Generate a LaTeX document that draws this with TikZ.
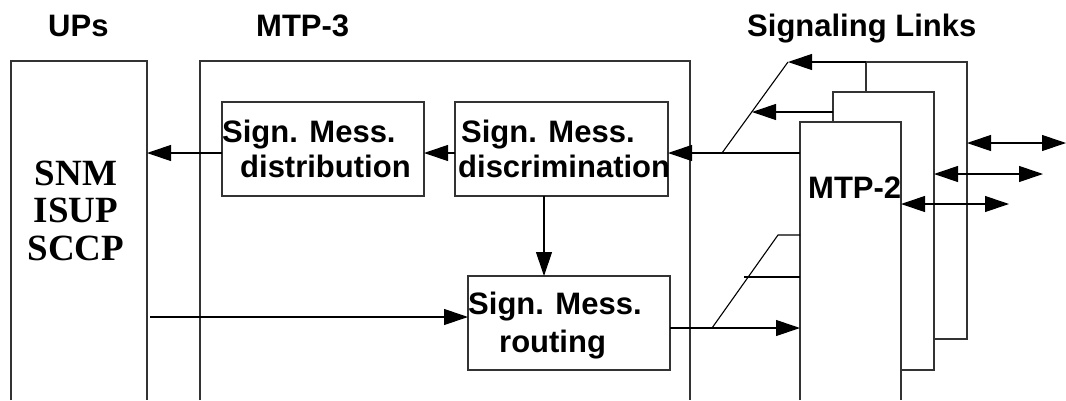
\documentclass[tikz,border=0pt]{standalone}
\usepackage{fontspec}
\setmainfont{Liberation Serif}
\newfontfamily\arialf{Liberation Sans}
\usetikzlibrary{arrows.meta}
\begin{document}
\begin{tikzpicture}[x=1pt,y=-1pt,
  frame/.style={line width=1.3pt, draw=black!80},
  box/.style={draw=black!80, line width=1.3pt, inner sep=0pt, outer sep=0pt, minimum width=#1, minimum height=94pt},
  lbl/.style={font=\arialf\bfseries\fontsize{31}{31}\selectfont, anchor=base west, inner sep=0pt},
  up/.style={font=\bfseries\fontsize{37}{37}\selectfont, anchor=base, inner sep=0pt},
  ln/.style={line width=1.1pt},
  arr/.style={line width=1.1pt, -{Triangle[length=24pt,width=16pt]}},
  darr/.style={line width=1.1pt, {Triangle[length=24pt,width=16pt]}-{Triangle[length=24pt,width=16pt]}}]
\useasboundingbox (0,0) rectangle (1066,400);

% titles
\node[lbl] (tUPs) at (48,36) {UPs};
\node[lbl] (tMTP3) at (256,36) {MTP-3};
\node[lbl] (tSL) at (747,36) {Signaling Links};

% UPs frame
\coordinate (upsBL) at (11,400);
\coordinate (upsTL) at (11,61);
\coordinate (upsTR) at (147,61);
\coordinate (upsBR) at (147,400);
\draw[frame] (upsBL) -- (upsTL) -- (upsTR) -- (upsBR);
\node[up] (snm) at (76,185) {SNM};
\node[up] (isup) at (76,222) {ISUP};
\node[up] (sccp) at (76,260) {SCCP};

% MTP-3 frame
\coordinate (m3BL) at (200,400);
\coordinate (m3TL) at (200,61);
\coordinate (m3TR) at (690,61);
\coordinate (m3BR) at (690,400);
\draw[frame] (m3BL) -- (m3TL) -- (m3TR) -- (m3BR);

% inner boxes
\node[box=202pt] (dist) at (323,149) {};
\node[box=213pt] (disc) at (561.5,149) {};
\node[box=202pt] (rout) at (569,323) {};
\node[lbl] (dist1) at (222,142) {Sign. Mess.};
\node[lbl] (dist2) at (240,177) {distribution};
\node[lbl] (disc1) at (461,142) {Sign. Mess.};
\node[lbl] (disc2) at (458,177) {discrimination};
\node[lbl] (rout1) at (468,314) {Sign. Mess.};
\node[lbl] (rout2) at (499,352) {routing};

% MTP-2 stack (rear to front)
\coordinate (b3a) at (866,92);
\coordinate (b3b) at (866,62);
\coordinate (b3c) at (967,62);
\coordinate (b3d) at (967,339);
\coordinate (b3e) at (934,339);
\draw[frame] (b3a) -- (b3b) -- (b3c) -- (b3d) -- (b3e);
\coordinate (b2a) at (833,122);
\coordinate (b2b) at (833,92);
\coordinate (b2c) at (934,92);
\coordinate (b2d) at (934,370);
\coordinate (b2e) at (901,370);
\draw[frame] (b2a) -- (b2b) -- (b2c) -- (b2d) -- (b2e);
\coordinate (b1a) at (800,400);
\coordinate (b1b) at (800,122);
\coordinate (b1c) at (901,122);
\coordinate (b1d) at (901,400);
\draw[frame] (b1a) -- (b1b) -- (b1c) -- (b1d);
\node[lbl] (mtp2) at (808,198) {MTP-2};

% link tap points
\coordinate (m1a) at (800,153);
\coordinate (m1b) at (800,235);
\coordinate (m1c) at (800,277);
\coordinate (m1d) at (800,328);
\coordinate (b2l) at (833,112);
\coordinate (s1) at (722,153);
\coordinate (s1t) at (788,62);
\coordinate (s1m) at (752,112);
\coordinate (s2) at (712,328);
\coordinate (s2t) at (778,235);
\coordinate (s2m) at (744,277);
\coordinate (upsR1) at (147,153);
\coordinate (upsR2) at (150,317);
\coordinate (dtop) at (544,196);

% connectors
\draw[arr] ([yshift=-4pt]dist.west) -- (upsR1);
\draw[arr] ([yshift=-4pt]disc.west) -- ([yshift=-4pt]dist.east);
\draw[arr] (m1a) -- ([yshift=-4pt]disc.east);
\draw[ln] (s1) -- (s1t);
\draw[arr] (b3b) -- (s1t);
\draw[arr] (b2l) -- (s1m);
\draw[arr] (dtop) -- (dtop |- rout.north);
\draw[arr] (upsR2) -- (rout.west |- upsR2);
\draw[arr] (rout.east |- m1d) -- (m1d);
\draw[ln] (s2) -- (s2t) -- (m1b);
\draw[ln] (s2m) -- (m1c);

% external links
\coordinate (e3) at (1066,143);
\coordinate (e2) at (1043,174);
\coordinate (e1) at (1009,204);
\draw[darr] (b3c |- e3) -- (e3);
\draw[darr] (b2c |- e2) -- (e2);
\draw[darr] (b1c |- e1) -- (e1);
\end{tikzpicture}
\end{document}
